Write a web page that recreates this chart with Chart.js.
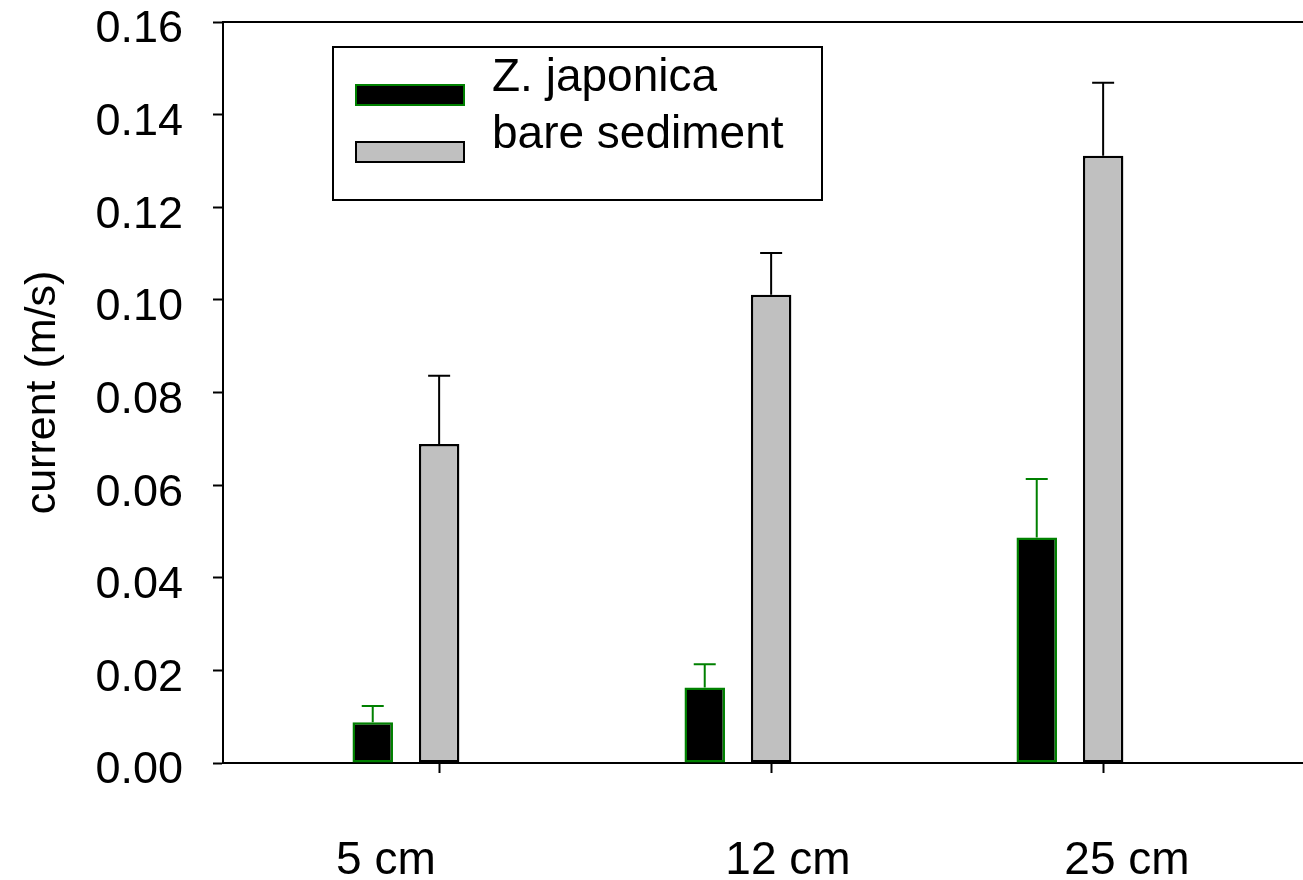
<!DOCTYPE html>
<html>
<head>
<meta charset="utf-8">
<script src="https://cdn.jsdelivr.net/npm/chart.js@4/dist/chart.umd.min.js"></script>
<style>
  html, body { margin: 0; padding: 0; background: #fff; }
  #chart { display: block; }
</style>
</head>
<body>
<canvas id="chart" width="1303" height="880"></canvas>
<script>
const categories = ['5 cm', '12 cm', '25 cm'];
const seriesNames = ['Z. japonica', 'bare sediment'];
const japonicaMeans = [0.0088, 0.0163, 0.0487];
const japonicaErrors = [0.0035, 0.005, 0.0126];
const bareMeans = [0.0689, 0.1011, 0.1311];
const bareErrors = [0.0147, 0.009, 0.0158];

const FAMILY = '"Liberation Sans", Arial, sans-serif';
const GREEN = '#008000';
const GRAY = '#c0c0c0';

const toPoints = values => values.map((v, i) => ({ x: i + 1, y: v }));

// upper half of the error bars, drawn over each bar
const errorBars = {
    id: 'errorBars',
    afterDatasetsDraw (chart) {
        const { ctx } = chart;
        const yScale = chart.scales.y;

        chart.data.datasets.forEach((dataset, di) => {
            const meta = chart.getDatasetMeta(di);
            ctx.save();
            ctx.strokeStyle = dataset.errorColor;
            ctx.lineWidth = 2;
            meta.data.forEach((bar, i) => {
                const top = yScale.getPixelForValue(dataset.data[i].y + dataset.errors[i]);
                ctx.beginPath();
                ctx.moveTo(bar.x, bar.y);
                ctx.lineTo(bar.x, top);
                ctx.moveTo(bar.x - 11, top);
                ctx.lineTo(bar.x + 11, top);
                ctx.stroke();
            });
            ctx.restore();
        });
    }
};

// group names under the x axis
const categoryLabels = {
    id: 'categoryLabels',
    afterDraw (chart) {
        const { ctx } = chart;
        const xScale = chart.scales.x;
        const shifts = [-20, 50, 57];

        ctx.save();
        ctx.font = `46px ${FAMILY}`;
        ctx.fillStyle = '#000';
        ctx.textAlign = 'center';
        ctx.textBaseline = 'alphabetic';
        categories.forEach((label, i) => {
            ctx.fillText(label, xScale.getPixelForValue(i + 1) + shifts[i], 874);
        });
        ctx.restore();
    }
};

// framed legend inside the plot
const boxedLegend = {
    id: 'boxedLegend',
    afterDraw (chart) {
        const { ctx } = chart;

        ctx.save();
        ctx.lineWidth = 2;
        ctx.strokeStyle = '#000';
        ctx.strokeRect(333, 47, 489, 153);

        chart.data.datasets.forEach((dataset, i) => {
            const y = 84 + i * 57;
            ctx.fillStyle = dataset.backgroundColor;
            ctx.fillRect(355, y, 110, 22);
            ctx.strokeStyle = dataset.borderColor;
            ctx.strokeRect(356, y + 1, 108, 20);

            ctx.fillStyle = '#000';
            ctx.font = `46px ${FAMILY}`;
            ctx.textAlign = 'left';
            ctx.textBaseline = 'alphabetic';
            ctx.fillText(dataset.label, 492, y + 7);
        });
        ctx.restore();
    }
};

const xRange = { min: 0.449, max: 3.702 };

new Chart(document.getElementById('chart'), {
    type: 'bar',
    data: {
        datasets: [
            {
                label: seriesNames[0],
                data: toPoints(japonicaMeans),
                errors: japonicaErrors,
                backgroundColor: '#000',
                borderColor: GREEN,
                errorColor: GREEN,
                borderWidth: 2.5,
                borderSkipped: false
            },
            {
                label: seriesNames[1],
                data: toPoints(bareMeans),
                errors: bareErrors,
                backgroundColor: GRAY,
                borderColor: '#000',
                errorColor: '#000',
                borderWidth: 2.5,
                borderSkipped: false
            }
        ]
    },
    options: {
        responsive: false,
        animation: false,
        devicePixelRatio: 1,
        categoryPercentage: 0.4,
        barPercentage: 0.61,
        layout: { padding: 0 },
        plugins: {
            legend: { display: false },
            tooltip: { enabled: false }
        },
        scales: {
            x: {
                type: 'linear',
                position: 'bottom',
                offset: false,
                min: xRange.min,
                max: xRange.max,
                afterBuildTicks: scale => {
                    scale.ticks = categories.map((c, i) => ({ value: i + 1.1 }));
                },
                afterFit: scale => {
                    scale.height = 117;
                    scale.paddingLeft = 0;
                    scale.paddingRight = 0;
                },
                ticks: { display: false },
                grid: { offset: false, drawOnChartArea: false, tickLength: 10, tickWidth: 2, tickColor: '#000' },
                border: { color: '#000', width: 2 }
            },
            xTop: {
                type: 'linear',
                position: 'top',
                min: xRange.min,
                max: xRange.max,
                afterFit: scale => {
                    scale.height = 22;
                    scale.paddingLeft = 0;
                    scale.paddingRight = 0;
                },
                ticks: { display: false },
                grid: { display: false },
                border: { display: true, color: '#000', width: 2 }
            },
            y: {
                min: 0,
                max: 0.16,
                afterFit: scale => {
                    scale.width = 223;
                    scale.paddingTop = 0;
                    scale.paddingBottom = 0;
                },
                ticks: {
                    stepSize: 0.02,
                    padding: 30,
                    labelOffset: 8,
                    color: '#000',
                    font: { family: FAMILY, size: 45 },
                    callback: v => v.toFixed(2)
                },
                grid: { drawOnChartArea: false, tickLength: 10, tickWidth: 2, tickColor: '#000' },
                border: { color: '#000', width: 2 },
                title: {
                    display: true,
                    text: 'current (m/s)',
                    color: '#000',
                    font: { family: FAMILY, size: 43 },
                    padding: { top: 17, bottom: 0 }
                }
            }
        }
    },
    plugins: [errorBars, categoryLabels, boxedLegend]
});
</script>
</body>
</html>
